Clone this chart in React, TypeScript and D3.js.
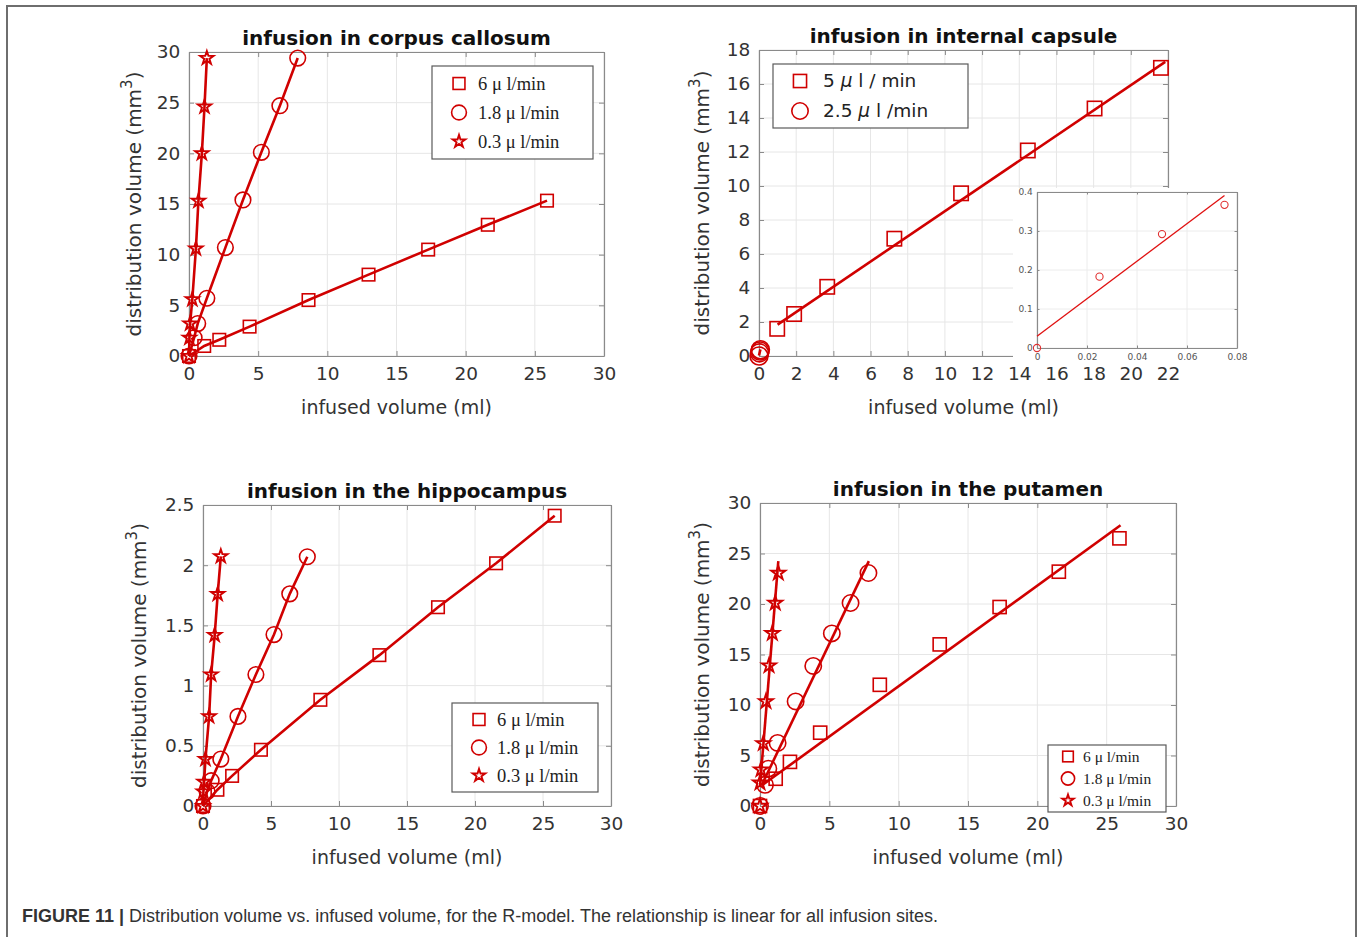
import * as d3 from "d3";
import { useEffect, useRef } from "react";

const RED = "#d00000";

// infusion in corpus callosum
const ccSquareX = [0, 1.1, 2.19, 4.38, 8.64, 12.98, 17.29, 21.6, 25.88];
const ccSquareY = [0, 0.99, 1.6, 2.9, 5.52, 8.03, 10.5, 12.95, 15.33];
const ccCircleX = [0, 0.37, 0.63, 1.29, 2.63, 3.9, 5.23, 6.57, 7.86];
const ccCircleY = [0, 1.8, 3.2, 5.7, 10.7, 15.4, 20.1, 24.7, 29.4];
const ccStarX = [0, 0.03, 0.08, 0.24, 0.5, 0.68, 0.93, 1.12, 1.29];
const ccStarY = [0, 1.8, 3.2, 5.6, 10.6, 15.3, 20.0, 24.6, 29.4];
const ccLegend = ["6 μ l/min", "1.8 μ l/min", "0.3 μ l/min"];

// infusion in internal capsule
const icSquareX = [0.98, 1.89, 3.67, 7.28, 10.87, 14.46, 18.05, 21.62];
const icSquareY = [1.6, 2.47, 4.07, 6.9, 9.57, 12.09, 14.56, 16.95];
const icSquareFitX = [1.0, 21.85];
const icSquareFitY = [1.85, 17.3];
const icCircleX = [0, 0.025, 0.05, 0.075];
const icCircleY = [0, 0.183, 0.292, 0.367];
const icCircleFitX = [0, 0.075];
const icCircleFitY = [0.03, 0.391];
const icLegend = ["5 μ l / min", "2.5 μ l /min"];

// infusion in the hippocampus
const hcSquareX = [0, 1.06, 2.14, 4.26, 8.63, 12.97, 17.28, 21.55, 25.86];
const hcSquareY = [0, 0.135, 0.25, 0.467, 0.882, 1.253, 1.651, 2.016, 2.411];
const hcCircleX = [0, 0.3, 0.6, 1.31, 2.57, 3.89, 5.22, 6.38, 7.67];
const hcCircleY = [0, 0.12, 0.21, 0.39, 0.744, 1.092, 1.424, 1.762, 2.07];
const hcStarX = [0, 0.03, 0.08, 0.18, 0.45, 0.6, 0.86, 1.08, 1.31];
const hcStarY = [0, 0.12, 0.2, 0.39, 0.744, 1.092, 1.42, 1.76, 2.074];
const hcLegend = ["6 μ l/min", "1.8 μ l/min", "0.3 μ l/min"];

// infusion in the putamen
const ptSquareX = [0, 1.13, 2.16, 4.34, 8.64, 12.96, 17.28, 21.55, 25.92];
const ptSquareY = [0, 2.7, 4.37, 7.26, 12.0, 16.0, 19.7, 23.2, 26.5];
const ptSquareFitX = [0.2, 26.0];
const ptSquareFitY = [2.1, 27.8];
const ptCircleX = [0, 0.36, 0.6, 1.27, 2.57, 3.84, 5.18, 6.53, 7.82];
const ptCircleY = [0, 2.1, 3.7, 6.24, 10.35, 13.87, 17.09, 20.1, 23.07];
const ptCircleFitX = [0.1, 7.85];
const ptCircleFitY = [2.0, 24.25];
const ptStarX = [0, 0.0, 0.07, 0.24, 0.43, 0.65, 0.89, 1.1, 1.32];
const ptStarY = [0, 2.3, 3.6, 6.2, 10.35, 13.9, 17.1, 20.1, 23.07];
const ptStarFitX = [0, 1.32];
const ptStarFitY = [2.0, 24.25];
const ptLegend = ["6 μ l/min", "1.8 μ l/min", "0.3 μ l/min"];

const ticks30 = [0, 5, 10, 15, 20, 25, 30];
const icXTicks = [0, 2, 4, 6, 8, 10, 12, 14, 16, 18, 20, 22];
const icYTicks = [0, 2, 4, 6, 8, 10, 12, 14, 16, 18];
const hcYTicks = [0, 0.5, 1, 1.5, 2, 2.5];
const insetXTicks = [0, 0.02, 0.04, 0.06, 0.08];
const insetYTicks = [0, 0.1, 0.2, 0.3, 0.4];

const caption = "Distribution volume vs. infused volume, for the R-model. The relationship is linear for all infusion sites.";

type Marker = "square" | "circle" | "star";

type Series = {
  marker: Marker;
  xs: number[];
  ys: number[];
  fitX?: number[];
  fitY?: number[];
};

type Legend = {
  x: number;
  y: number;
  w: number;
  h: number;
  gap: number;
  fontSize: number;
  font: string;
  labels: string[];
  markers: Marker[];
  markerDx: number;
  textDx: number;
  markerScale: number;
  italicMu?: boolean;
};

type Panel = {
  title: string;
  left: number;
  right: number;
  top: number;
  bottom: number;
  xDomain: [number, number];
  yDomain: [number, number];
  xTicks: number[];
  yTicks: number[];
  series: Series[];
  legend: Legend;
  markerScale: number;
  yLabelOffset: number;
};

const SANS = "DejaVu Sans, Verdana, sans-serif";
const SERIF = "Liberation Serif, Times New Roman, serif";
const fmt = d3.format("~g");

type G = d3.Selection<SVGGElement, unknown, null, undefined>;

function drawMarker(g: G, kind: Marker, cx: number, cy: number, scale: number, color = RED, sw = 1.6) {
  if (kind === "square") {
    const s = 12.5 * scale;
    g.append("rect")
      .attr("x", cx - s / 2)
      .attr("y", cy - s / 2)
      .attr("width", s)
      .attr("height", s)
      .attr("fill", "none")
      .attr("stroke", color)
      .attr("stroke-width", sw);
  } else if (kind === "circle") {
    g.append("circle")
      .attr("cx", cx)
      .attr("cy", cy)
      .attr("r", 7.8 * scale)
      .attr("fill", "none")
      .attr("stroke", color)
      .attr("stroke-width", sw);
  } else {
    g.append("path")
      .attr("d", d3.symbol(d3.symbolStar, 55 * scale * scale)() ?? "")
      .attr("transform", `translate(${cx},${cy})`)
      .attr("fill", "none")
      .attr("stroke", color)
      .attr("stroke-width", sw + 0.3);
  }
}

function drawAxesFrame(
  g: G,
  x: d3.ScaleLinear<number, number>,
  y: d3.ScaleLinear<number, number>,
  xTicks: number[],
  yTicks: number[],
  left: number,
  right: number,
  top: number,
  bottom: number,
  fontSize: number,
  tickLen: number,
  labelColor: string,
  gridColor: string
) {
  g.append("rect")
    .attr("x", left)
    .attr("y", top)
    .attr("width", right - left)
    .attr("height", bottom - top)
    .attr("fill", "#ffffff");

  g.append("g")
    .selectAll("line")
    .data(xTicks)
    .join("line")
    .attr("x1", (d) => x(d))
    .attr("x2", (d) => x(d))
    .attr("y1", top)
    .attr("y2", bottom)
    .attr("stroke", gridColor)
    .attr("stroke-width", 1);

  g.append("g")
    .selectAll("line")
    .data(yTicks)
    .join("line")
    .attr("x1", left)
    .attr("x2", right)
    .attr("y1", (d) => y(d))
    .attr("y2", (d) => y(d))
    .attr("stroke", gridColor)
    .attr("stroke-width", 1);

  const styleAxis = (sel: G) => {
    sel.select(".domain").attr("stroke", "#8a8a8a").attr("stroke-width", 1.2);
    sel.selectAll(".tick line").attr("stroke", "#8a8a8a");
    sel.selectAll(".tick text")
      .attr("fill", labelColor)
      .attr("font-size", fontSize)
      .attr("font-family", SANS);
  };

  const bottomAxis = g.append("g")
    .attr("transform", `translate(0,${bottom})`)
    .call(d3.axisBottom(x).tickValues(xTicks).tickFormat((d) => fmt(d as number)).tickSizeInner(-tickLen).tickSizeOuter(0).tickPadding(tickLen + fontSize * 0.3));
  styleAxis(bottomAxis);

  const leftAxis = g.append("g")
    .attr("transform", `translate(${left},0)`)
    .call(d3.axisLeft(y).tickValues(yTicks).tickFormat((d) => fmt(d as number)).tickSizeInner(-tickLen).tickSizeOuter(0).tickPadding(tickLen + fontSize * 0.2));
  styleAxis(leftAxis);

  const topAxis = g.append("g")
    .attr("transform", `translate(0,${top})`)
    .call(d3.axisTop(x).tickValues(xTicks).tickFormat(() => "").tickSizeInner(-tickLen).tickSizeOuter(0));
  styleAxis(topAxis);

  const rightAxis = g.append("g")
    .attr("transform", `translate(${right},0)`)
    .call(d3.axisRight(y).tickValues(yTicks).tickFormat(() => "").tickSizeInner(-tickLen).tickSizeOuter(0));
  styleAxis(rightAxis);
}

function drawPanel(svg: d3.Selection<SVGSVGElement, unknown, null, undefined>, p: Panel) {
  const g = svg.append("g") as unknown as G;
  const x = d3.scaleLinear().domain(p.xDomain).range([p.left, p.right]);
  const y = d3.scaleLinear().domain(p.yDomain).range([p.bottom, p.top]);

  drawAxesFrame(g, x, y, p.xTicks, p.yTicks, p.left, p.right, p.top, p.bottom, 18.5, 5, "#333333", "#e6e6e6");

  const line = d3.line<[number, number]>()
    .x((d) => x(d[0]))
    .y((d) => y(d[1]));

  const marks = g.append("g");
  p.series.forEach((s) => {
    const lx = s.fitX ?? s.xs;
    const ly = s.fitY ?? s.ys;
    const pts = lx.map((v, i) => [v, ly[i]] as [number, number]);
    marks.append("path")
      .attr("d", line(pts) ?? "")
      .attr("fill", "none")
      .attr("stroke", RED)
      .attr("stroke-width", 2.6);
    s.xs.forEach((v, i) => drawMarker(marks as unknown as G, s.marker, x(v), y(s.ys[i]), p.markerScale));
  });

  // title
  g.append("text")
    .attr("x", (p.left + p.right) / 2)
    .attr("y", p.top - 7)
    .attr("text-anchor", "middle")
    .attr("font-family", SANS)
    .attr("font-weight", "bold")
    .attr("font-size", 20)
    .attr("fill", "#111")
    .text(p.title);

  // x label
  g.append("text")
    .attr("x", (p.left + p.right) / 2)
    .attr("y", p.bottom + 58)
    .attr("text-anchor", "middle")
    .attr("font-family", SANS)
    .attr("font-size", 19)
    .attr("fill", "#333")
    .text("infused volume (ml)");

  // y label
  const cy = (p.top + p.bottom) / 2;
  const yl = g.append("text")
    .attr("transform", `translate(${p.left - p.yLabelOffset},${cy}) rotate(-90)`)
    .attr("text-anchor", "middle")
    .attr("font-family", SANS)
    .attr("font-size", 20)
    .attr("fill", "#333");
  yl.append("tspan").text("distribution volume (mm");
  yl.append("tspan").attr("dy", -9).attr("font-size", 15).text("3");
  yl.append("tspan").attr("dy", 9).text(")");

  // legend
  const L = p.legend;
  const lg = g.append("g");
  lg.append("rect")
    .attr("x", L.x)
    .attr("y", L.y)
    .attr("width", L.w)
    .attr("height", L.h)
    .attr("fill", "#ffffff")
    .attr("stroke", "#5a5a5a")
    .attr("stroke-width", 1.2);
  L.labels.forEach((label, i) => {
    const rowY = L.y + L.gap * (i + 0.5) + (L.h - L.gap * L.labels.length) / 2;
    drawMarker(lg as unknown as G, L.markers[i], L.x + L.markerDx, rowY, L.markerScale);
    const t = lg.append("text")
      .attr("x", L.x + L.textDx)
      .attr("y", rowY + L.fontSize * 0.35)
      .attr("font-family", L.font)
      .attr("font-size", L.fontSize)
      .attr("fill", "#222");
    const parts = label.split("μ");
    t.append("tspan").text(parts[0]);
    t.append("tspan").attr("font-style", L.italicMu ? "italic" : "normal").text("μ");
    t.append("tspan").text(parts[1]);
  });
}

function drawInset(svg: d3.Selection<SVGSVGElement, unknown, null, undefined>) {
  const g = svg.append("g") as unknown as G;
  const left = 1037;
  const right = 1237;
  const top = 192;
  const bottom = 348;
  g.append("rect")
    .attr("x", 1013)
    .attr("y", 188)
    .attr("width", 240)
    .attr("height", 175)
    .attr("fill", "#ffffff");
  const x = d3.scaleLinear().domain([0, 0.08]).range([left, right]);
  const y = d3.scaleLinear().domain([0, 0.4]).range([bottom, top]);
  drawAxesFrame(g, x, y, insetXTicks, insetYTicks, left, right, top, bottom, 9, 2.5, "#555555", "#ececec");

  const line = d3.line<[number, number]>()
    .x((d) => x(d[0]))
    .y((d) => y(d[1]));
  g.append("path")
    .attr("d", line(icCircleFitX.map((v, i) => [v, icCircleFitY[i]] as [number, number])) ?? "")
    .attr("fill", "none")
    .attr("stroke", "#e01010")
    .attr("stroke-width", 1.3);
  g.append("g")
    .selectAll("circle")
    .data(icCircleX)
    .join("circle")
    .attr("cx", (d) => x(d))
    .attr("cy", (_, i) => y(icCircleY[i]))
    .attr("r", 3.6)
    .attr("fill", "none")
    .attr("stroke", "#e03030")
    .attr("stroke-width", 1.1);
}

export default function App() {
  const svgRef = useRef<SVGSVGElement | null>(null);

  useEffect(() => {
    if (!svgRef.current) return;
    const svg = d3.select(svgRef.current);
    svg.selectAll("*").remove();

    svg.append("rect").attr("width", 1360).attr("height", 937).attr("fill", "#ffffff");
    svg.append("rect")
      .attr("x", 7)
      .attr("y", 6)
      .attr("width", 1349)
      .attr("height", 960)
      .attr("fill", "none")
      .attr("stroke", "#6e6e6e")
      .attr("stroke-width", 2);

    const panels: Panel[] = [
      {
        title: "infusion in corpus callosum",
        left: 189, right: 604, top: 52, bottom: 356,
        xDomain: [0, 30], yDomain: [0, 30],
        xTicks: ticks30, yTicks: ticks30,
        series: [
          { marker: "square", xs: ccSquareX, ys: ccSquareY },
          { marker: "circle", xs: ccCircleX, ys: ccCircleY },
          { marker: "star", xs: ccStarX, ys: ccStarY },
        ],
        legend: { x: 432, y: 66, w: 161, h: 93, gap: 29, fontSize: 18.5, font: SERIF, labels: ccLegend, markers: ["square", "circle", "star"], markerDx: 27, textDx: 46, markerScale: 0.95 },
        markerScale: 1,
        yLabelOffset: 48,
      },
      {
        title: "infusion in internal capsule",
        left: 759, right: 1168, top: 50, bottom: 356,
        xDomain: [0, 22], yDomain: [0, 18],
        xTicks: icXTicks, yTicks: icYTicks,
        series: [
          { marker: "square", xs: icSquareX, ys: icSquareY, fitX: icSquareFitX, fitY: icSquareFitY },
          { marker: "circle", xs: icCircleX, ys: icCircleY, fitX: icCircleFitX, fitY: icCircleFitY },
        ],
        legend: { x: 773, y: 64, w: 195, h: 64, gap: 30, fontSize: 18.5, font: SANS, labels: icLegend, markers: ["square", "circle"], markerDx: 27, textDx: 50, markerScale: 1.05, italicMu: true },
        markerScale: 1.15,
        yLabelOffset: 50,
      },
      {
        title: "infusion in the hippocampus",
        left: 203, right: 611, top: 505, bottom: 806,
        xDomain: [0, 30], yDomain: [0, 2.5],
        xTicks: ticks30, yTicks: hcYTicks,
        series: [
          { marker: "square", xs: hcSquareX, ys: hcSquareY },
          { marker: "circle", xs: hcCircleX, ys: hcCircleY },
          { marker: "star", xs: hcStarX, ys: hcStarY },
        ],
        legend: { x: 452, y: 703, w: 146, h: 89, gap: 28, fontSize: 18.5, font: SERIF, labels: hcLegend, markers: ["square", "circle", "star"], markerDx: 27, textDx: 45, markerScale: 0.95 },
        markerScale: 1,
        yLabelOffset: 57,
      },
      {
        title: "infusion in the putamen",
        left: 760, right: 1176, top: 503, bottom: 806,
        xDomain: [0, 30], yDomain: [0, 30],
        xTicks: ticks30, yTicks: ticks30,
        series: [
          { marker: "square", xs: ptSquareX, ys: ptSquareY, fitX: ptSquareFitX, fitY: ptSquareFitY },
          { marker: "circle", xs: ptCircleX, ys: ptCircleY, fitX: ptCircleFitX, fitY: ptCircleFitY },
          { marker: "star", xs: ptStarX, ys: ptStarY, fitX: ptStarFitX, fitY: ptStarFitY },
        ],
        legend: { x: 1048, y: 745, w: 118, h: 67, gap: 22, fontSize: 15.5, font: SERIF, labels: ptLegend, markers: ["square", "circle", "star"], markerDx: 20, textDx: 35, markerScale: 0.85 },
        markerScale: 1.05,
        yLabelOffset: 51,
      },
    ];

    panels.forEach((p) => drawPanel(svg, p));
    drawInset(svg);

    const cap = svg.append("text")
      .attr("x", 22)
      .attr("y", 922)
      .attr("font-family", "Liberation Sans Narrow, Arial Narrow, Liberation Sans, sans-serif")
      .attr("font-size", 18)
      .attr("fill", "#333");
    cap.append("tspan").attr("font-weight", "bold").text("FIGURE 11 | ");
    cap.append("tspan").text(caption);
  }, []);

  return (
    <svg
      ref={svgRef}
      width={1360}
      height={937}
      style={{ position: "absolute", left: 0, top: 0, display: "block" }}
    />
  );
}
